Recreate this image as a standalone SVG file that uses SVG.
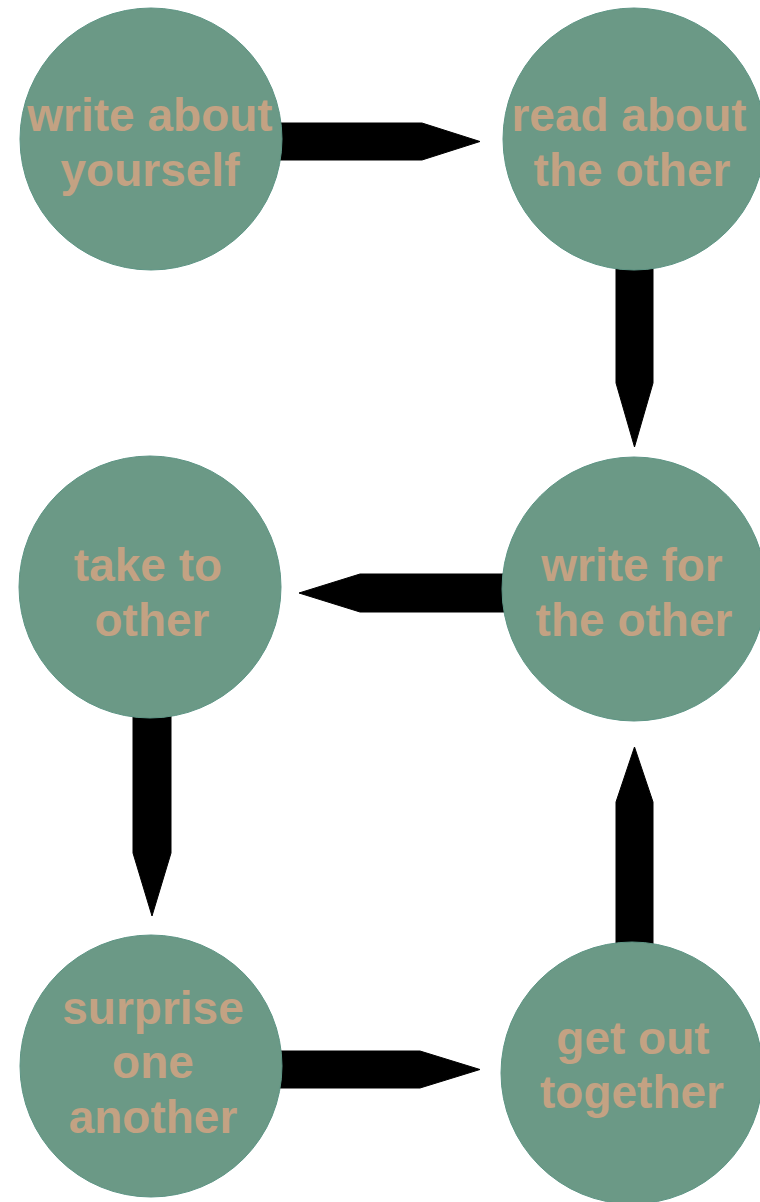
<svg xmlns="http://www.w3.org/2000/svg" width="760" height="1202" viewBox="0 0 760 1202">
<style>
.node circle{fill:#6b9986;stroke:#5e9585;stroke-width:1}
.node text{fill:#c3a283;font-family:"Liberation Sans",Arial,sans-serif;font-weight:bold;font-size:46px;text-anchor:middle}
.conn path{fill:#000;stroke:#000;stroke-width:1;stroke-linejoin:round}
</style>
<rect width="760" height="1202" fill="#fff"/>
<g id="connectors" class="conn">
<path d="M270,123 H422 L480,141.5 L422,160 H270 Z"/>
<path d="M616,255 V383 L634.5,447 L653,383 V255 Z"/>
<path d="M515,574 H360 L299,593 L360,612 H515 Z"/>
<path d="M133,705 V853 L152,916 L171,853 V705 Z"/>
<path d="M616,960 V802 L634.5,747 L653,802 V960 Z"/>
<path d="M270,1051 H420 L480,1069.5 L420,1088 H270 Z"/>
</g>
<g id="n1" class="node"><circle cx="151" cy="139" r="131"/><text x="150" y="131">write about</text><text x="150" y="186">yourself</text></g>
<g id="n2" class="node"><circle cx="634" cy="139" r="131"/><text x="629" y="131">read about</text><text x="632" y="186">the other</text></g>
<g id="n3" class="node"><circle cx="634" cy="589" r="132"/><text x="632" y="581">write for</text><text x="634" y="636">the other</text></g>
<g id="n4" class="node"><circle cx="150" cy="587" r="131"/><text x="148" y="581">take to</text><text x="152" y="636">other</text></g>
<g id="n5" class="node"><circle cx="151" cy="1066" r="131"/><text x="153" y="1024">surprise</text><text x="153" y="1078">one</text><text x="153" y="1133">another</text></g>
<g id="n6" class="node"><circle cx="632" cy="1073" r="131"/><text x="633" y="1054">get out</text><text x="632" y="1108">together</text></g>
</svg>
